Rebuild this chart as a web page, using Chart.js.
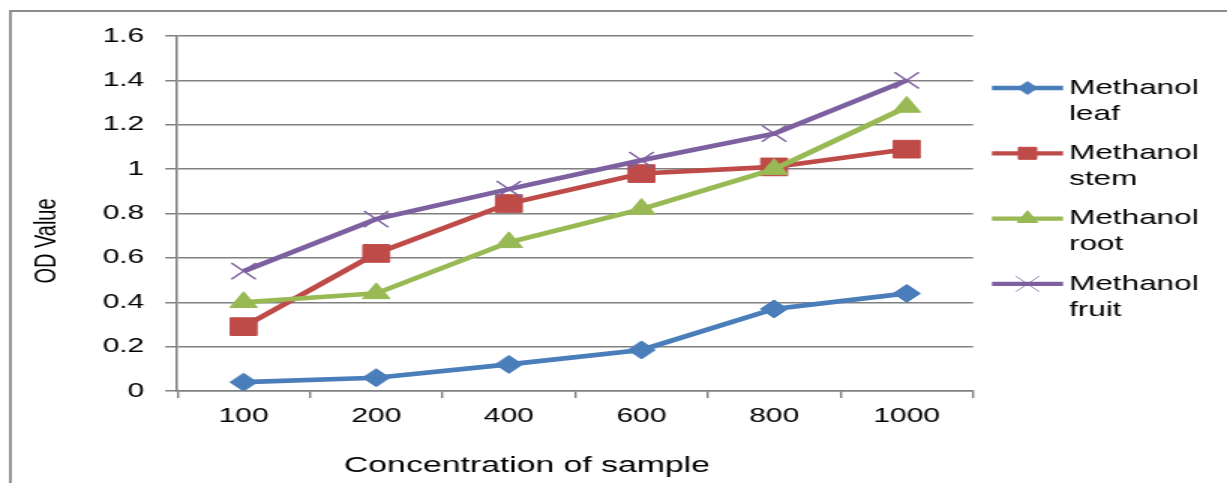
<!DOCTYPE html>
<html><head><meta charset="utf-8">
<script src="https://cdn.jsdelivr.net/npm/chart.js@4.4.1/dist/chart.umd.min.js"></script>
<style>html,body{margin:0;padding:0;background:#fff;overflow:hidden}
#c{display:block}</style></head>
<body><canvas id="c" width="818" height="483" style="width:1227px;height:483px"></canvas>
<script>
const categories = ['100','200','400','600','800','1000'];
const seriesNames = ['Methanol leaf','Methanol stem','Methanol root','Methanol fruit'];
const legendLines = [['Methanol','leaf'],['Methanol','stem'],['Methanol','root'],['Methanol','fruit']];
const leafValues  = [0.04, 0.06, 0.12, 0.185, 0.37, 0.44];
const stemValues  = [0.29, 0.62, 0.845, 0.98, 1.01, 1.09];
const rootValues  = [0.40, 0.44, 0.67, 0.82, 1.00, 1.28];
const fruitValues = [0.54, 0.775, 0.91, 1.04, 1.16, 1.40];
const yTickLabels = ['0','0.2','0.4','0.6','0.8','1','1.2','1.4','1.6'];
const xAxisTitle = 'Concentration of sample';
const yAxisTitle = 'OD Value';

const FONT = '"Liberation Sans", Arial, sans-serif';
const GRID = '#808080';

function drawMarker(ctx, style, x, y, r, fill, stroke, bw) {
  ctx.save();
  ctx.fillStyle = fill; ctx.strokeStyle = stroke; ctx.lineWidth = bw;
  ctx.beginPath();
  if (style === 'rectRot') {
    ctx.moveTo(x - r, y); ctx.lineTo(x, y - r); ctx.lineTo(x + r, y); ctx.lineTo(x, y + r); ctx.closePath();
    ctx.fill(); if (bw) ctx.stroke();
  } else if (style === 'rect') {
    const s = r * Math.SQRT1_2;
    ctx.rect(x - s, y - s, 2 * s, 2 * s); ctx.fill(); if (bw) ctx.stroke();
  } else if (style === 'triangle') {
    for (let k = 0; k < 3; k++) {
      const a = k * 2 * Math.PI / 3;
      const px = x + Math.sin(a) * r, py = y - Math.cos(a) * r;
      if (k === 0) ctx.moveTo(px, py); else ctx.lineTo(px, py);
    }
    ctx.closePath(); ctx.fill(); if (bw) ctx.stroke();
  } else if (style === 'crossRot') {
    const o = r * Math.SQRT1_2;
    ctx.moveTo(x - o, y - o); ctx.lineTo(x + o, y + o);
    ctx.moveTo(x - o, y + o); ctx.lineTo(x + o, y - o);
    ctx.stroke();
  }
  ctx.restore();
}

const decorPlugin = {
  id: 'decor',
  beforeDraw(chart) {
    const ctx = chart.ctx;
    ctx.save();
    ctx.fillStyle = '#ffffff';
    ctx.fillRect(0, 0, chart.width, chart.height);
    ctx.strokeStyle = '#8c8c8c';
    ctx.lineWidth = 1.8;
    ctx.beginPath();
    ctx.moveTo(6.9, chart.height); ctx.lineTo(6.9, 11); ctx.lineTo(chart.width, 11);
    ctx.stroke();
    ctx.restore();
  },
  afterDraw(chart) {
    const ctx = chart.ctx;
    ctx.save();
    ctx.fillStyle = '#000';
    ctx.font = '22.5px ' + FONT;
    ctx.textAlign = 'center'; ctx.textBaseline = 'middle';
    ctx.fillText(xAxisTitle, 351.3, 466);
    ctx.save();
    ctx.translate(31.7, 241);
    ctx.rotate(-Math.PI / 2);
    ctx.font = '20px ' + FONT;
    ctx.fillText(yAxisTitle, 0, 0);
    ctx.restore();
    const legendMarkerR = [6.5, 8.5, 7.8, 11];
    const legendMarkerBW = [1, 1, 1, 0.8];
    chart.data.datasets.forEach((ds, i) => {
      const y = 88 + i * 65.3;
      ctx.strokeStyle = ds.borderColor;
      ctx.lineWidth = 4.3;
      ctx.beginPath(); ctx.moveTo(661.3, y); ctx.lineTo(708.7, y); ctx.stroke();
      drawMarker(ctx, ds.pointStyle, 685, y, legendMarkerR[i], ds.pointBackgroundColor, ds.pointBorderColor, legendMarkerBW[i]);
      ctx.fillStyle = '#000';
      ctx.font = '21px ' + FONT;
      ctx.textAlign = 'left'; ctx.textBaseline = 'middle';
      ctx.fillText(legendLines[i][0], 712.7, y);
      ctx.fillText(legendLines[i][1], 712.7, y + 26);
    });
    ctx.restore();
  }
};

const colors = ['#4A7EBB', '#BE4B48', '#98B954', '#7D60A0'];
const styles = ['rectRot', 'rect', 'triangle', 'crossRot'];
const radii = [9, 12.5, 10.5, 11.5];
const pbw = [1, 1, 1, 1.4];
const values = [leafValues, stemValues, rootValues, fruitValues];
const orders = [4, 3, 2, 1];

const datasets = values.map((v, i) => ({
  label: seriesNames[i],
  data: v,
  borderColor: colors[i],
  backgroundColor: colors[i],
  borderWidth: 4.6,
  pointStyle: styles[i],
  pointRadius: radii[i],
  pointHoverRadius: radii[i],
  pointBackgroundColor: colors[i],
  pointBorderColor: colors[i],
  pointBorderWidth: pbw[i],
  tension: 0,
  fill: false,
  order: orders[i]
}));

Chart.defaults.font.family = FONT;
Chart.defaults.color = '#000';

new Chart(document.getElementById('c'), {
  type: 'line',
  data: { labels: categories, datasets },
  options: {
    responsive: false,
    devicePixelRatio: 1,
    animation: false,
    events: [],
    layout: { padding: { left: 0, top: 36, right: 169.3, bottom: 0 } },
    plugins: { legend: { display: false }, tooltip: { enabled: false } },
    scales: {
      x: {
        type: 'category',
        offset: true,
        grid: { offset: true, drawOnChartArea: false, drawTicks: true, tickLength: 7, color: GRID, lineWidth: 1.4 },
        border: { display: true, color: GRID, width: 1.5 },
        ticks: { font: { size: 20 }, color: '#000', padding: 6, maxRotation: 0, autoSkip: false },
        afterFit(scale) { scale.height = 92; }
      },
      y: {
        min: 0, max: 1.6,
        ticks: { stepSize: 0.2, font: { size: 20 }, color: '#000', padding: 14,
          callback: (v, idx) => yTickLabels[idx] },
        grid: { color: GRID, lineWidth: 1.5, tickLength: 8, drawTicks: true },
        border: { display: true, color: GRID, width: 1.5 },
        afterFit(scale) { scale.width = 118.2; }
      }
    }
  },
  plugins: [decorPlugin]
});
</script>
</body></html>
